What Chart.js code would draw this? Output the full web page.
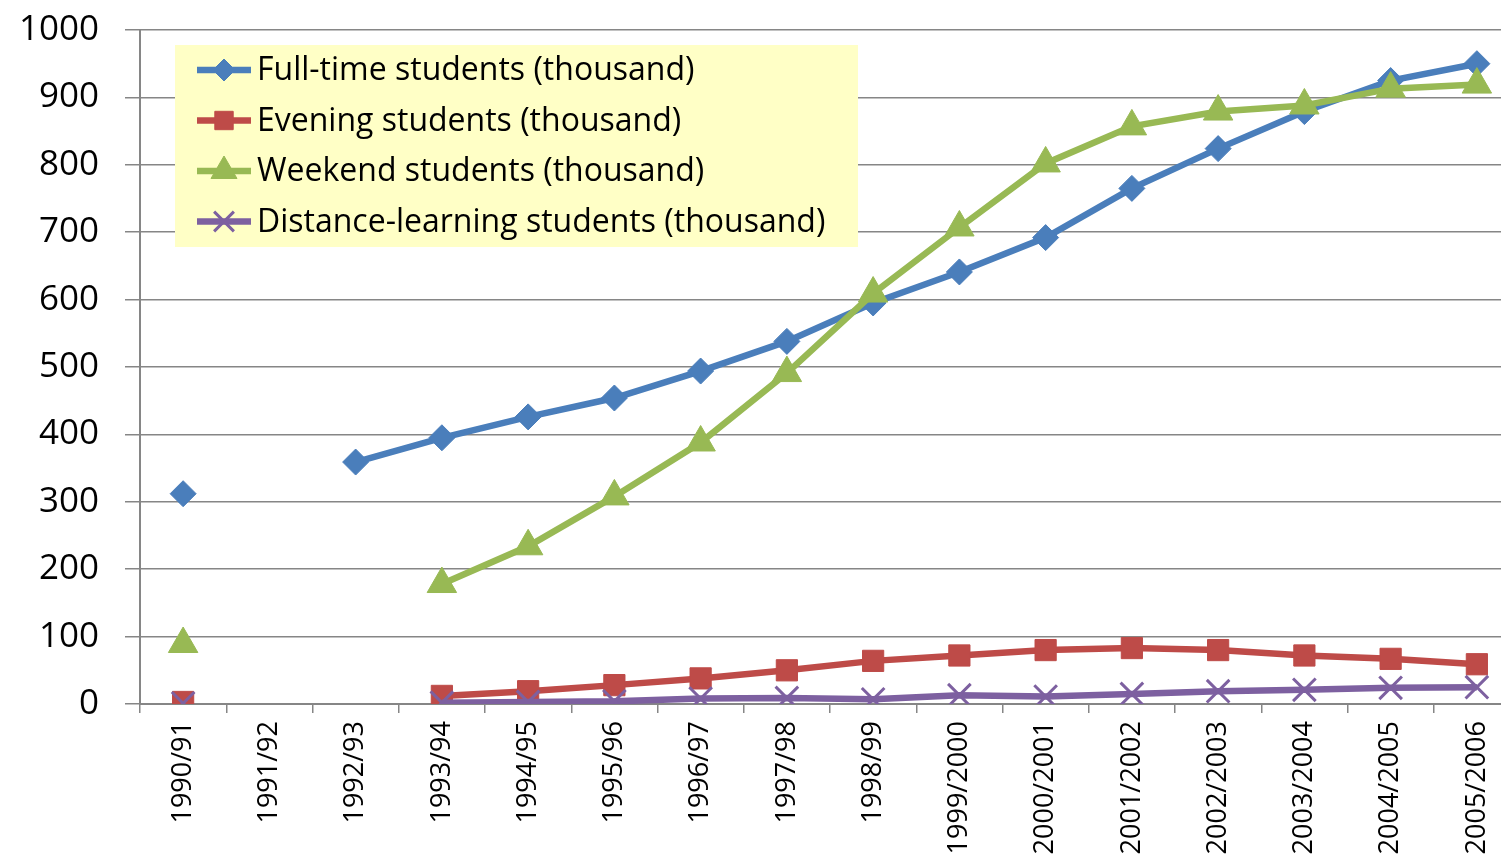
<!DOCTYPE html>
<html lang="en">
<head>
    <meta charset="UTF-8">
    <title>Students by form of study</title>
    <script src="https://cdn.jsdelivr.net/npm/chart.js"></script>
    <style>
        html, body { margin: 0; padding: 0; background: #fff; overflow: hidden; }
        #wrap { position: relative; width: 1501px; height: 855px; overflow: hidden; }
        #chartStudents { position: absolute; left: 0; top: -17px; }
    </style>
</head>
<body>
    <div id="wrap"><canvas id="chartStudents" width="1539" height="872"></canvas></div>

    <script>
        // Data (thousand students)
        const years = ["1990/91", "1991/92", "1992/93", "1993/94", "1994/95", "1995/96", "1996/97", "1997/98",
            "1998/99", "1999/2000", "2000/2001", "2001/2002", "2002/2003", "2003/2004", "2004/2005", "2005/2006"];
        const fullTime = [312, null, 359, 395, 426, 454, 494, 538, 595, 641, 692, 765, 824, 879, 925, 950];
        const evening = [3, null, null, 12, 19, 28, 38, 50, 64, 72, 80, 83, 80, 72, 67, 59];
        const weekend = [89, null, null, 178, 234, 308, 388, 491, 609, 707, 802, 857, 879, 888, 913, 919];
        const distance = [1, null, null, 2, 3, 4, 8, 9, 7, 13, 11, 15, 19, 21, 24, 25];
        const yTicks = [0, 100, 200, 300, 400, 500, 600, 700, 800, 900, 1000];

        const FONT = "'Open Sans', 'DejaVu Sans', sans-serif";
        const SHIFT = 17; // canvas is moved up by this much

        function serie(label, data, color, style, radius, order) {
            return {
                label: label,
                data: data,
                borderColor: color,
                backgroundColor: color,
                borderWidth: 6.5,
                pointStyle: style,
                pointRadius: radius,
                pointHoverRadius: radius,
                pointBackgroundColor: color,
                pointBorderColor: color,
                pointBorderWidth: style === 'crossRot' ? 3 : 1,
                tension: 0,
                spanGaps: false,
                order: order
            };
        }

        // legend drawn inside the plot, like the original
        const insideLegend = {
            id: 'insideLegend',
            afterDraw(chart) {
                const ctx = chart.ctx;
                const x0 = 175, y0 = 45 + SHIFT, w = 683, h = 202;
                ctx.save();
                ctx.fillStyle = '#ffffc6';
                ctx.fillRect(x0, y0, w, h);
                ctx.font = '32px ' + FONT;
                ctx.textBaseline = 'middle';
                chart.data.datasets.forEach((ds, i) => {
                    const y = 70 + SHIFT + i * 50.5;
                    ctx.strokeStyle = ds.borderColor;
                    ctx.lineWidth = 6.5;
                    ctx.beginPath();
                    ctx.moveTo(197, y);
                    ctx.lineTo(251, y);
                    ctx.stroke();
                    ctx.fillStyle = ds.pointBackgroundColor;
                    ctx.strokeStyle = ds.pointBorderColor;
                    ctx.lineWidth = ds.pointBorderWidth;
                    Chart.helpers.drawPoint(ctx, {
                        pointStyle: ds.pointStyle,
                        radius: ds.pointRadius - 2,
                        borderWidth: ds.pointBorderWidth,
                        rotation: 0
                    }, 224, y);
                    ctx.fillStyle = '#000';
                    ctx.fillText(ds.label, 257, y + 1);
                });
                ctx.restore();
            }
        };

        const ctx = document.getElementById('chartStudents').getContext('2d');
        const chart = new Chart(ctx, {
            type: 'line',
            data: {
                labels: years,
                datasets: [
                    serie('Full-time students (thousand)', fullTime, '#4a7ebb', 'rectRot', 13, 3),
                    serie('Evening students (thousand)', evening, '#be4b48', 'rect', 15, 2),
                    serie('Weekend students (thousand)', weekend, '#98b954', 'triangle', 17, 1),
                    serie('Distance-learning students (thousand)', distance, '#7d60a0', 'crossRot', 16, 0)
                ]
            },
            options: {
                responsive: false,
                animation: false,
                layout: { padding: 0 },
                plugins: {
                    legend: { display: false },
                    tooltip: { enabled: false }
                },
                scales: {
                    x: {
                        offset: true,
                        grid: {
                            offset: true,
                            drawOnChartArea: false,
                            drawTicks: true,
                            tickLength: 9,
                            color: '#868686',
                            lineWidth: 1.5
                        },
                        border: { color: '#868686', width: 2 },
                        ticks: {
                            autoSkip: false,
                            minRotation: 90,
                            maxRotation: 90,
                            padding: 8,
                            color: '#000',
                            font: { family: FONT, size: 27 }
                        },
                        afterFit(scale) { scale.height = 151; }
                    },
                    y: {
                        min: 0,
                        max: 1000,
                        afterBuildTicks(scale) { scale.ticks = yTicks.map(v => ({ value: v })); },
                        grid: {
                            color: '#868686',
                            lineWidth: 1.5,
                            drawTicks: true,
                            tickLength: 15
                        },
                        border: { color: '#868686', width: 2 },
                        ticks: {
                            padding: 26,
                            color: '#000',
                            font: { family: FONT, size: 35 },
                            callback: (v) => String(v)
                        },
                        afterFit(scale) { scale.width = 140; }
                    }
                }
            },
            plugins: [insideLegend]
        });
    </script>
</body>
</html>
